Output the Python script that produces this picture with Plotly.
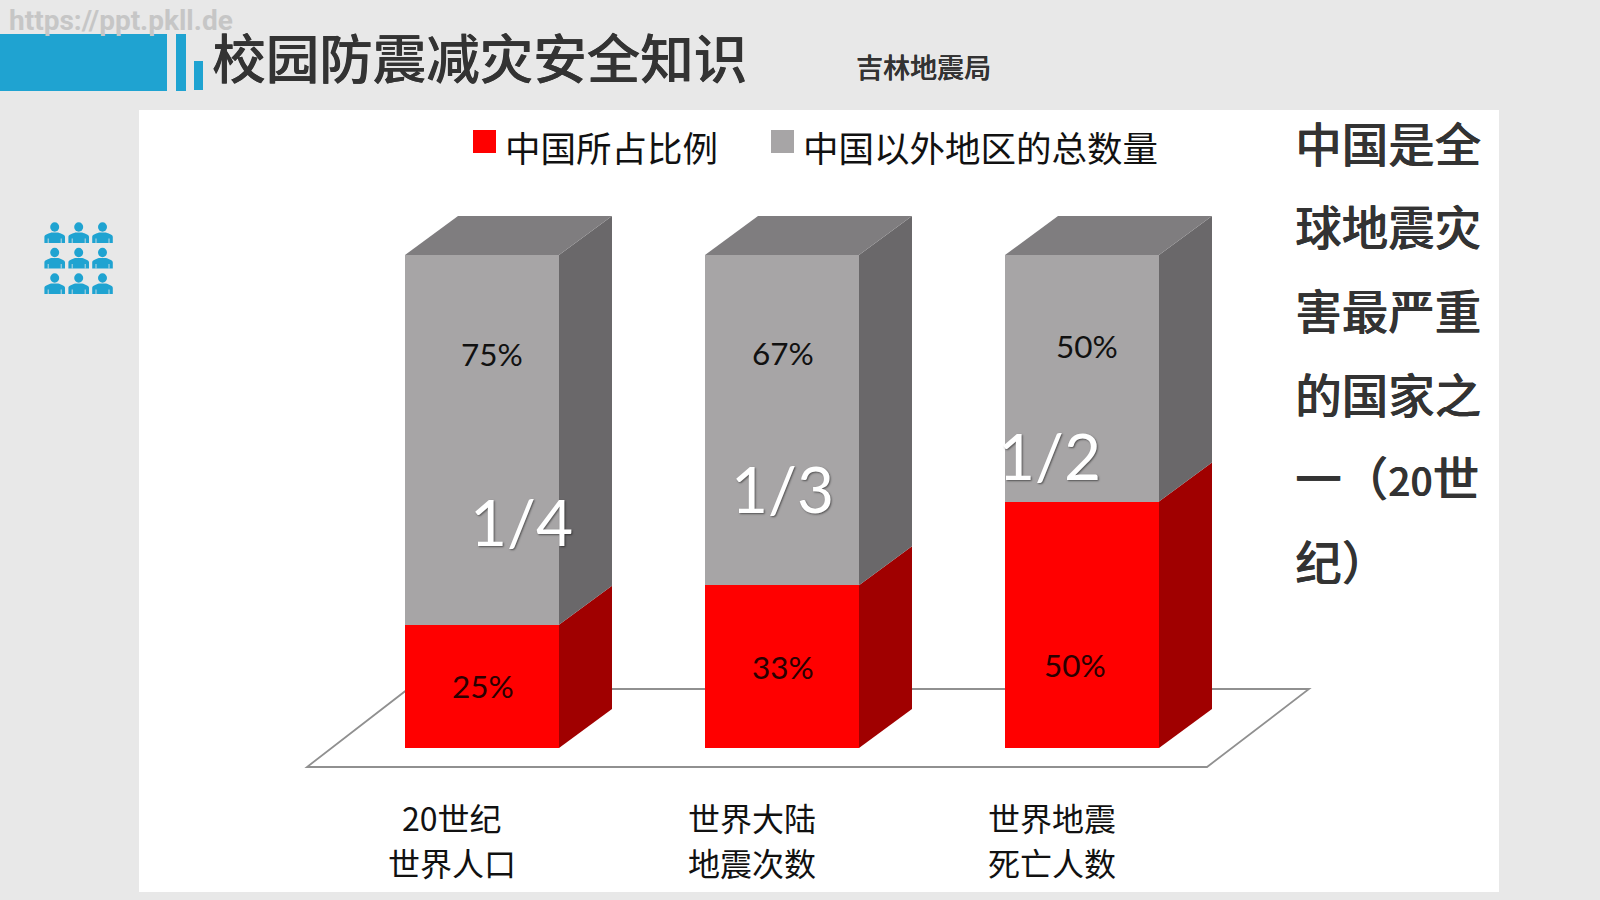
import plotly.graph_objects as go

# ---- chart data ----
categories = [["20世纪", "世界人口"], ["世界大陆", "地震次数"], ["世界地震", "死亡人数"]]
china_share = [25, 33, 50]
other_share = [75, 67, 50]
series_names = ["中国所占比例", "中国以外地区的总数量"]
fractions = ["1/4", "1/3", "1/2"]
side_lines = ["中国是全", "球地震灾", "害最严重", "的国家之", "一（<span style=\"font-size:39px\">20</span>世", "纪）"]

# ---- page geometry (pixels on a 1600x900 canvas) ----
W, H = 1600, 900
BAR_STEP = 300
BAR_PX = 154
FIRST_BAR = 482
BASE_Y, TOP_Y = 748, 255
PX_PER_UNIT = (BASE_Y - TOP_Y) / 100
DEPTH_X = 53 / BAR_STEP
DEPTH_Y = 39 / PX_PER_UNIT
HALF = BAR_PX / BAR_STEP / 2

BLUE = "#1fa3d1"
RED, RED_SIDE = "#ff0000", "#a00000"
GREY, GREY_SIDE, GREY_TOP = "#a7a5a6", "#6a686a", "#7f7d7f"
PAGE = "#e8e8e8"
CJK = "Noto Sans CJK SC"
LATIN = "Lato"
HEAVY = "0.5px 0 0 #333333"


def px(x):
    return x / W


def py(y):
    return 1 - y / H


def page_rect(x0, y0, x1, y1, color):
    return dict(type="rect", xref="paper", yref="paper", x0=px(x0), x1=px(x1),
                y0=py(y1), y1=py(y0), fillcolor=color, line_width=0, layer="below")


def page_text(x, y, text, size, color, family=CJK, anchor="center", weight=None, shadow=None):
    font = dict(family=family, size=size, color=color)
    if weight:
        font["weight"] = weight
    if shadow:
        font["shadow"] = shadow
    return dict(xref="paper", yref="paper", x=px(x), y=py(y), text=text, showarrow=False,
                xanchor=anchor, yanchor="middle", font=font, borderpad=0)


def person(cx, head_y):
    """Small silhouette: a round head, rounded shoulders and two arm slits."""
    head = dict(type="circle", xref="paper", yref="paper", x0=px(cx - 4.5), x1=px(cx + 4.5),
                y0=py(head_y + 4.7), y1=py(head_y - 4.7), fillcolor=BLUE, line_width=0, layer="below")

    def p(a, b):
        return f"{px(cx + a):.5f},{py(head_y + b):.5f}"

    path = (f"M{p(-10.3, 16)} L{p(-10.3, 10)} C{p(-10.3, 7.5)} {p(-6, 6.6)} {p(-3.5, 5.6)} "
            f"L{p(3.5, 5.6)} C{p(6, 6.6)} {p(10.3, 7.5)} {p(10.3, 10)} L{p(10.3, 16)} Z")
    body = dict(type="path", xref="paper", yref="paper", path=path, fillcolor=BLUE, line_width=0, layer="below")
    slits = [dict(type="line", xref="paper", yref="paper", x0=px(cx + a), x1=px(cx + a),
                  y0=py(head_y + 11.5), y1=py(head_y + 16), line=dict(color=PAGE, width=0.8), layer="below")
             for a in (-6.5, 6.5)]
    return [head, body] + slits


def polygon(xs, ys, color):
    return go.Scatter(x=xs + xs[:1], y=ys + ys[:1], mode="lines", fill="toself", fillcolor=color,
                      line=dict(width=0, color=color), hoverinfo="skip", showlegend=False)


fig = go.Figure()

# extruded side and top faces, built from the same values as the front bars
for i, (low, high) in enumerate(zip(china_share, other_share)):
    right = i + HALF
    total = low + high
    fig.add_trace(polygon([right, right + DEPTH_X, right + DEPTH_X, right],
                          [0, DEPTH_Y, low + DEPTH_Y, low], RED_SIDE))
    fig.add_trace(polygon([right, right + DEPTH_X, right + DEPTH_X, right],
                          [low, low + DEPTH_Y, total + DEPTH_Y, total], GREY_SIDE))
    fig.add_trace(polygon([i - HALF, i - HALF + DEPTH_X, right + DEPTH_X, right],
                          [total, total + DEPTH_Y, total + DEPTH_Y, total], GREY_TOP))

idx = list(range(len(categories)))
fig.add_trace(go.Bar(x=idx, y=china_share, name=series_names[0], width=2 * HALF,
                     marker=dict(color=RED, line_width=0), showlegend=False, hoverinfo="skip"))
fig.add_trace(go.Bar(x=idx, y=other_share, name=series_names[1], width=2 * HALF,
                     marker=dict(color=GREY, line_width=0), showlegend=False, hoverinfo="skip"))

shapes = [
    page_rect(139, 110, 1499, 892, "#ffffff"),
    page_rect(0, 34, 167, 91, BLUE),
    page_rect(176, 34, 186, 91, BLUE),
    page_rect(194, 61, 203, 90, BLUE),
    # floor plane beneath the columns
    dict(type="path", xref="paper", yref="paper", layer="below", fillcolor="#ffffff",
         line=dict(color="#909090", width=1.8),
         path=f"M{px(307)},{py(767)} L{px(1207)},{py(767)} L{px(1309)},{py(689)} L{px(408)},{py(689)} Z"),
    # legend swatches
    dict(type="rect", xref="paper", yref="paper", x0=px(473), x1=px(496), y0=py(153), y1=py(130),
         fillcolor=RED, line_width=0),
    dict(type="rect", xref="paper", yref="paper", x0=px(771), x1=px(794), y0=py(153), y1=py(130),
         fillcolor=GREY, line_width=0),
]
for cy in (227, 252.5, 278):
    for cx in (54.7, 78.7, 102.5):
        shapes.extend(person(cx, cy))

annotations = [
    page_text(8, 20, "https://ppt.pkll.de", 28, "#c6c6c6", family="Roboto", anchor="left", weight=700),
    page_text(211, 56, "校园防震减灾安全知识", 53.5, "#333333", anchor="left", weight=500, shadow=HEAVY),
    page_text(923.5, 66, "吉林地震局", 27, "#333333", weight=500, shadow="0.3px 0 0 #333333"),
    page_text(504, 146, series_names[0], 35.5, "#111111", anchor="left"),
    page_text(802, 146, series_names[1], 35.5, "#111111", anchor="left"),
]

# right-hand commentary
for n, line in enumerate(side_lines):
    annotations.append(page_text(1294, 141 + n * 83.7, line, 46.5, "#333333", anchor="left", weight=500, shadow=HEAVY))

# value labels, anchored on each segment and nudged by pixels
low_shift = [(1, 0), (1, 0), (-7, -40)]
high_shift = [(10, 86), (1, 67), (5, 32)]
for i, (low, high) in enumerate(zip(china_share, other_share)):
    for value, centre, shift, color in (
        (low, low / 2, low_shift[i], "#2a0000"),
        (high, low + high / 2, high_shift[i], "#111111"),
    ):
        annotations.append(dict(xref="x", yref="y", x=i, y=centre, text=f"{value}%", showarrow=False,
                                xshift=shift[0], yshift=shift[1], xanchor="center", yanchor="middle",
                                font=dict(family=LATIN, size=31.5, color=color)))

# category captions sit left of the column centres, one annotation per line
for i, lines in enumerate(categories):
    for line, line_y in zip(lines, (817, 862)):
        annotations.append(dict(xref="x", yref="paper", x=i, y=py(line_y), text=line, showarrow=False,
                                xshift=-30, xanchor="center", yanchor="middle",
                                font=dict(family=CJK, size=32, color="#111111")))

# large white fractions with a tight drop shadow
fraction_pos = [(521, 521), (782, 488), (1049, 455)]
for (x, y), text in zip(fraction_pos, fractions):
    annotations.append(page_text(x, y, text, 64, "#ffffff", family=LATIN,
                                 shadow="1px 1px 2px rgba(0,0,0,0.5)"))

fig.update_layout(
    width=W, height=H, autosize=False,
    margin=dict(l=0, r=0, t=0, b=0, pad=0),
    paper_bgcolor=PAGE, plot_bgcolor="rgba(0,0,0,0)",
    barmode="stack", showlegend=False,
    shapes=shapes, annotations=annotations,
    xaxis=dict(visible=False, domain=[0, 1], range=[-FIRST_BAR / BAR_STEP, (W - FIRST_BAR) / BAR_STEP]),
    yaxis=dict(visible=False, domain=[0, 1], range=[-(H - BASE_Y) / PX_PER_UNIT, BASE_Y / PX_PER_UNIT]),
)

fig.write_html("out.html", config=dict(displayModeBar=False))
